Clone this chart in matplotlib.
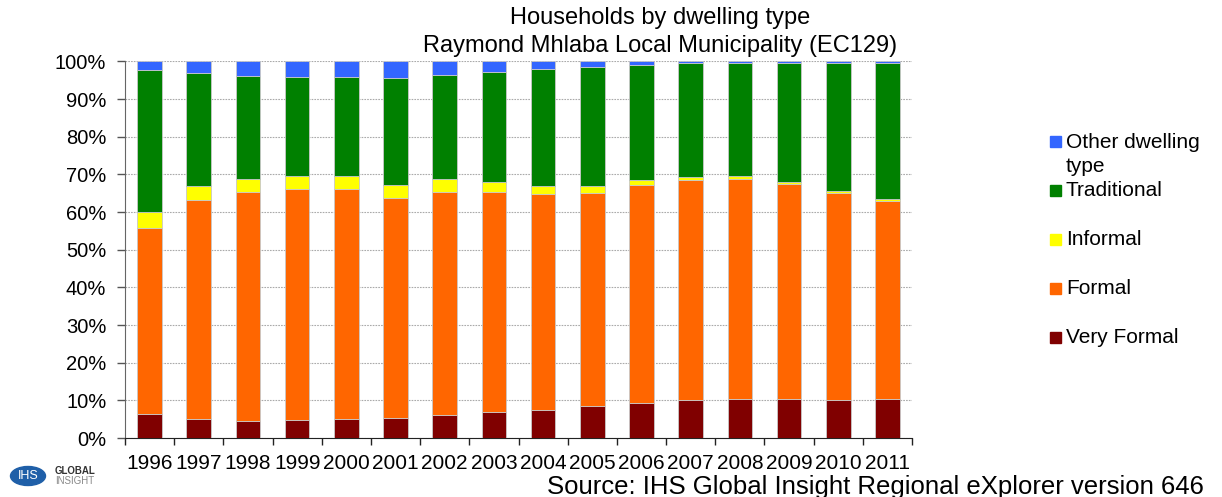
import numpy as np
import matplotlib
matplotlib.use("Agg")
import matplotlib.pyplot as plt
from matplotlib.patches import Rectangle, Ellipse

plt.rcParams["font.family"] = ["Liberation Sans", "DejaVu Sans"]

# household shares (%) per dwelling type, 1996-2011
years = [str(y) for y in range(1996, 2012)]
very_formal = [6.4, 5.1, 4.5, 4.7, 5.0, 5.4, 6.1, 6.8, 7.5, 8.4, 9.3, 10.0, 10.4, 10.3, 10.2, 10.3]
formal = [49.4, 58.1, 60.9, 61.3, 61.1, 58.2, 59.3, 58.6, 57.2, 56.7, 58.0, 58.4, 58.3, 57.2, 54.8, 52.7]
informal = [4.3, 3.7, 3.5, 3.6, 3.6, 3.7, 3.3, 2.7, 2.2, 1.8, 1.2, 1.0, 0.8, 0.6, 0.6, 0.5]
traditional = [37.5, 30.0, 27.2, 26.3, 26.1, 28.2, 27.8, 29.2, 31.0, 31.6, 30.5, 30.1, 30.2, 31.6, 34.1, 36.2]
other = [2.4, 3.1, 3.9, 4.1, 4.2, 4.5, 3.5, 2.7, 2.1, 1.5, 1.0, 0.5, 0.3, 0.3, 0.3, 0.3]

series = [
    ("Very Formal", very_formal, "#800000"),
    ("Formal", formal, "#FF6600"),
    ("Informal", informal, "#FFFF00"),
    ("Traditional", traditional, "#008000"),
    ("Other dwelling\ntype", other, "#3366FF"),
]

fig = plt.figure(figsize=(12.22, 4.97), dpi=100)
ax = fig.add_axes([125 / 1222, 1 - 438 / 497, 787 / 1222, 376.6 / 497])

x = np.arange(len(years))
bottom = np.zeros(len(years))
for name, vals, col in series:
    ax.bar(x, vals, width=0.5, bottom=bottom, color=col,
           edgecolor="#c8c8c8", linewidth=0.6, zorder=3)
    bottom += np.array(vals)

ax.set_xlim(-0.5, len(years) - 0.5)
ax.set_ylim(0, 100)
ax.set_yticks(np.arange(0, 101, 10))
ax.set_yticklabels([f"{v}%" for v in range(0, 101, 10)], fontsize=14.5)
ax.set_xticks(x)
ax.set_xticklabels(years, fontsize=15)
ax.set_xticks(np.arange(-0.5, len(years)), minor=True)
ax.tick_params(axis="x", which="major", length=0, pad=11.5)
ax.tick_params(axis="x", which="minor", length=5, width=1, color="#222222")
ax.tick_params(axis="y", length=5.5, width=1, color="#555555", pad=8)

ax.yaxis.grid(True, linestyle=(0, (1.5, 1)), color="#aaaaaa", linewidth=0.8, zorder=0)
for s in ["top", "right"]:
    ax.spines[s].set_visible(False)
ax.spines["left"].set_color("#666666")
ax.spines["bottom"].set_color("#222222")

# title
fig.text(660 / 1222, 1 - 18 / 497, "Households by dwelling type", ha="center", va="center", fontsize=17)
fig.text(660 / 1222, 1 - 46 / 497, "Raymond Mhlaba Local Municipality (EC129)", ha="center", va="center", fontsize=17)

# legend, top entry first
legend_y = [141.7, 190, 239.3, 288.3, 337.3]
for (name, vals, col), yy in zip(reversed(series), legend_y):
    fig.add_artist(Rectangle((1050 / 1222, 1 - (yy + 5.5) / 497), 11 / 1222, 11 / 497,
                             transform=fig.transFigure, color=col))
    fig.text(1066 / 1222, 1 - (yy - 9) / 497, name, ha="left", va="top", fontsize=15,
             linespacing=1.35)

# source note and logo
fig.text(547 / 1222, 1 - 494 / 497, "Source: IHS Global Insight Regional eXplorer version 646",
         ha="left", va="baseline", fontsize=18.5)
fig.add_artist(Ellipse((28 / 1222, 1 - 476 / 497), 35 / 1222, 19 / 497,
                       transform=fig.transFigure, color="#1f5fa8"))
fig.text(28 / 1222, 1 - 476 / 497, "IHS", ha="center", va="center", fontsize=9, color="white")
fig.text(55 / 1222, 1 - 471 / 497, "GLOBAL", ha="left", va="center", fontsize=7,
         color="#333333", fontweight="bold")
fig.text(55 / 1222, 1 - 481 / 497, "INSIGHT", ha="left", va="center", fontsize=7, color="#888888")

fig.savefig("out.png", dpi=100)
